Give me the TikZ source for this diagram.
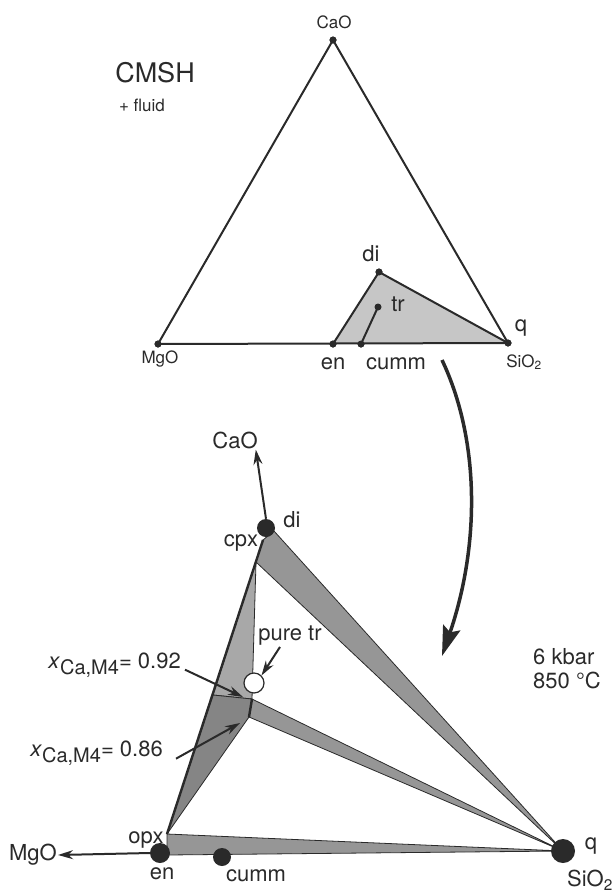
\documentclass[tikz,border=0pt]{standalone}
\usepackage{fontspec}
\setmainfont{TeX Gyre Heros}
\usetikzlibrary{arrows.meta}
\definecolor{Ink}{HTML}{2A2A2A}
\definecolor{BandGray}{HTML}{969696}
\definecolor{BandDark}{HTML}{858585}
\definecolor{BandLight}{HTML}{A8A8A8}
\definecolor{FieldGray}{HTML}{C6C6C6}

\begin{document}
\begin{tikzpicture}[
  x=1pt, y=-1pt,
  font=\fontsize{22}{24}\selectfont,
  phase/.style={circle, fill=Ink, inner sep=0pt, minimum size=#1},
  phase/.default=7pt,
  edge/.style={draw=Ink, line width=2pt, line join=round},
  band/.style={fill=#1, draw=Ink, line width=0.8pt, line join=round},
  lbl/.style={text=Ink, inner sep=1pt},
  small/.style={lbl, font=\fontsize{17}{19}\selectfont},
  ptr/.style={-{Stealth[length=15pt,width=9pt]}, draw=Ink, line width=2pt},
  bigptr/.style={-{Stealth[length=30pt,width=18pt,inset=5pt]}, draw=Ink, line width=3.5pt},
]
\useasboundingbox (0,0) rectangle (613,895);

% --- CMSH triangle (top) ---
\node[phase] (cao) at (333,40) {};
\node[phase] (mgo) at (158,344) {};
\node[phase] (sio) at (508,343) {};
\node[phase] (en) at (333,344) {};
\node[phase] (cumm) at (361,344) {};
\node[phase] (di) at (379,272) {};
\node[phase] (tr) at (378,307) {};

\fill[FieldGray] (en.center) -- (di.center) -- (sio.center) -- cycle;
\draw[edge] (mgo.center) -- (cao.center) -- (sio.center) -- cycle;
\draw[edge] (en.center) -- (di.center) -- (sio.center);
\draw[edge] (cumm.center) -- (tr.center);
\foreach \p in {cao, mgo, sio, en, cumm, di, tr} \node[phase] at (\p) {};

\node[lbl, font=\fontsize{27}{29}\selectfont] (title) at (155,73) {CMSH};
\node[small] (fluid) at (142,105) {+ fluid};
\node[small] (lcao) at (334,22) {CaO};
\node[small] (lmgo) at (160,359) {MgO};
\node[small] (lsio) at (524,362) {SiO\textsubscript{2}};
\node[lbl] (lq) at (521,328) {q};
\node[lbl] (ldi) at (371,254) {di};
\node[lbl] (ltr) at (398,304) {tr};
\node[lbl] (len) at (333,364) {en};
\node[lbl] (lcumm) at (396,364) {cumm};

% --- projection arrow ---
\coordinate (arrS) at (442,360);
\coordinate (arrE) at (442,656);
\draw[bigptr] (arrS) .. controls (480,440) and (480,545) .. (arrE);

% --- 6 kbar section (bottom) ---
\coordinate (cpxA) at (263,540);
\coordinate (cpxB) at (256,562);
\coordinate (diB) at (274,531);
\coordinate (amT) at (252,699);
\coordinate (amB) at (249,717);
\coordinate (splitL) at (213,695);
\coordinate (opxT) at (167,834);
\coordinate (opxB) at (167,855);
\coordinate (qq) at (563,851);

\draw[band=BandLight] (cpxA) -- (cpxB) -- (amT) -- (splitL) -- cycle;
\draw[band=BandDark] (splitL) -- (amT) -- (amB) -- (opxT) -- cycle;
\draw[band=BandGray] (cpxA) -- (diB) -- (qq) -- (cpxB) -- cycle;
\draw[band=BandGray] (amT) -- (qq) -- (amB) -- cycle;
\draw[band=BandGray] (opxT) -- (qq) -- (opxB) -- cycle;
\draw[draw=Ink, line width=2.4pt] (opxT) -- (cpxA);
\draw[draw=Ink, line width=2.4pt] (amT) -- (amB);

\node[phase=18pt] (di2) at (266,528) {};
\node[phase=20pt] (en2) at (160,853) {};
\node[phase=18pt] (cumm2) at (222,857) {};
\node[phase=24pt] (q2) at (563,851) {};
\node[circle, draw=Ink, fill=white, line width=1.2pt, minimum size=20pt,
      inner sep=0pt] (puretr) at (254,683) {};

\node[lbl] (lcao2) at (235,440) {CaO};
\node[lbl] (ldi2) at (292,520) {di};
\node[lbl] (lcpx) at (241,543) {cpx};
\node[lbl] (lopx) at (146,840) {opx};
\node[lbl] (len2) at (162,874) {en};
\node[lbl] (lcumm2) at (256,876) {cumm};
\node[lbl] (lmgo2) at (33,855) {MgO};
\node[lbl] (lq2) at (591,846) {q};
\node[lbl] (lsio2) at (590,880) {SiO\textsubscript{2}};
\node[lbl, anchor=base west] (lp) at (532,664) {6 kbar};
\node[lbl, anchor=base west] (lt) at (532,688) {850 °C};
\node[lbl] (lpure) at (290,636) {pure tr};

\node[lbl, anchor=base east] (x92) at (182,668)
  {\textit{x}\raisebox{-6pt}{\fontsize{20}{20}\selectfont Ca,M4}= 0.92};
\node[lbl, anchor=base east] (x86) at (164,756)
  {\textit{x}\raisebox{-6pt}{\fontsize{20}{20}\selectfont Ca,M4}= 0.86};
\coordinate (p92) at (243,697);
\coordinate (p86) at (240,723);

% --- pointers ---
\draw[ptr] (di2.north) -- ([xshift=-3pt]lcao2.south east);
\draw[ptr] (en2.west) -- (lmgo2.east);
\draw[ptr] ([xshift=-10pt]lpure.south) -- (puretr.north east);
\draw[ptr] ([xshift=3pt,yshift=-5pt]x92.east) -- (p92);
\draw[ptr] ([xshift=12pt,yshift=-6pt]x86.east) -- (p86);

\end{tikzpicture}
\end{document}
